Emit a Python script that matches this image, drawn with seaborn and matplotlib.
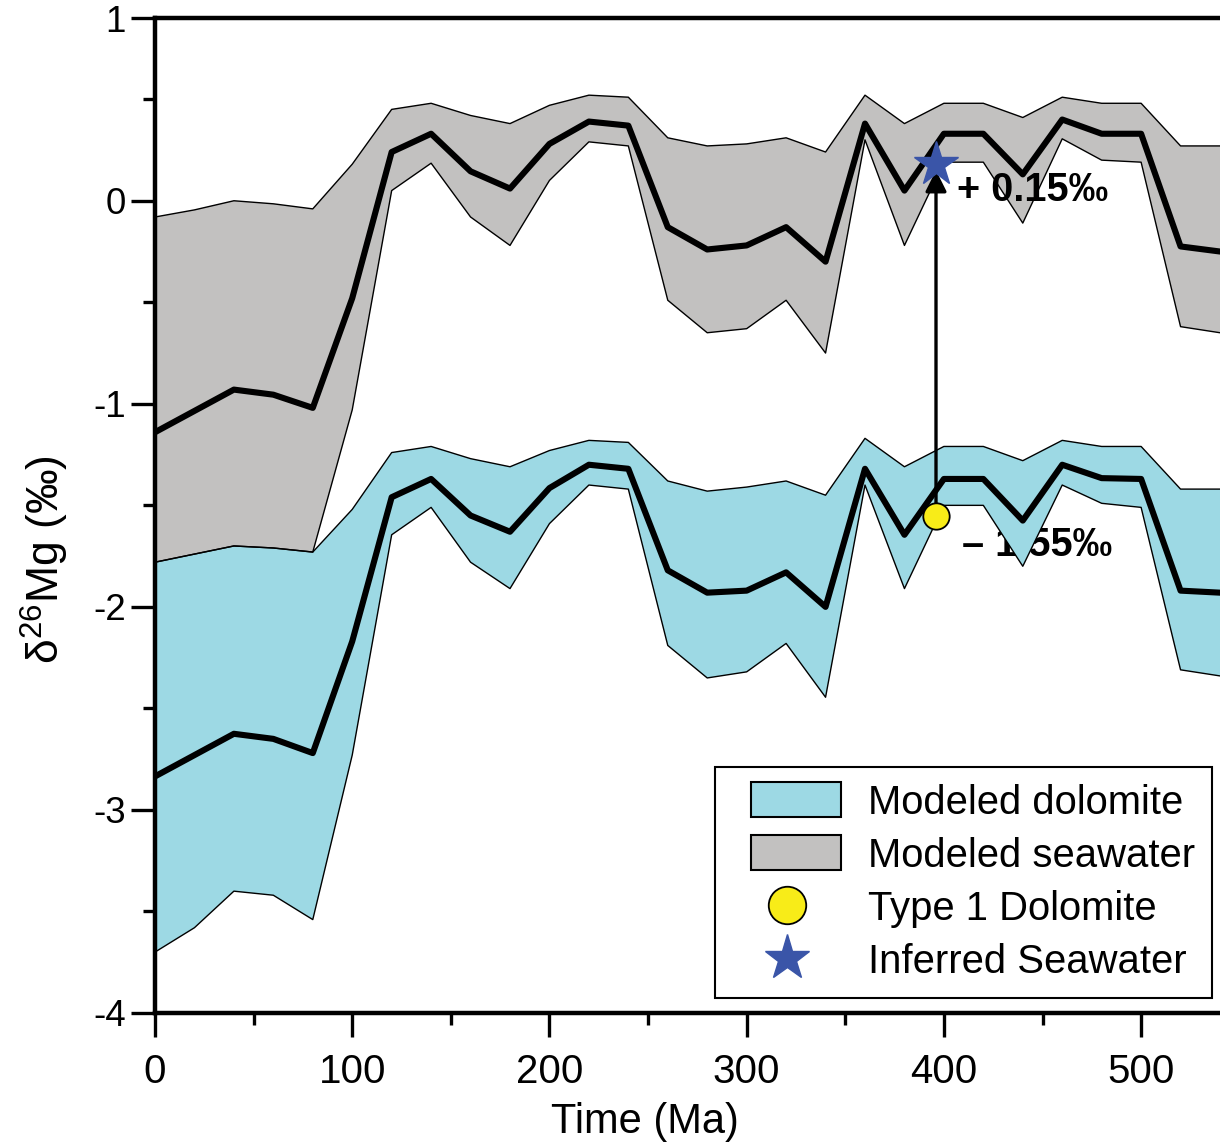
import numpy as np
import pandas as pd
import matplotlib
matplotlib.use("Agg")
import matplotlib.pyplot as plt
import seaborn as sns
from matplotlib.patches import Patch, Rectangle
from matplotlib.lines import Line2D
from matplotlib.ticker import MultipleLocator, FixedLocator, FixedFormatter
from matplotlib.legend_handler import HandlerPatch, HandlerLine2D

# ---------------- data ----------------
time_ma = [0, 20, 40, 60, 80, 100, 120, 140, 160, 180, 200, 220, 240, 260,
           280, 300, 320, 340, 360, 380, 400, 420, 440, 460, 480, 500, 520, 540]

seawater_mid = [-1.14, -1.035, -0.93, -0.955, -1.02, -0.48, 0.24, 0.33, 0.145, 0.06,
                0.28, 0.39, 0.37, -0.13, -0.24, -0.22, -0.13, -0.30, 0.38, 0.05,
                0.33, 0.33, 0.13, 0.40, 0.33, 0.33, -0.225, -0.25]
seawater_hi = [-0.08, -0.045, 0.0, -0.015, -0.04, 0.18, 0.45, 0.48, 0.42, 0.38,
               0.47, 0.52, 0.51, 0.31, 0.27, 0.28, 0.31, 0.24, 0.52, 0.38,
               0.48, 0.48, 0.41, 0.51, 0.48, 0.48, 0.27, 0.27]
seawater_lo = [-1.78, -1.74, -1.70, -1.71, -1.73, -1.03, 0.05, 0.185, -0.08, -0.22,
               0.10, 0.29, 0.27, -0.49, -0.65, -0.63, -0.49, -0.75, 0.30, -0.22,
               0.19, 0.19, -0.11, 0.305, 0.20, 0.19, -0.62, -0.65]

dolomite_mid = [-2.835, -2.73, -2.625, -2.65, -2.72, -2.17, -1.46, -1.37, -1.55, -1.63,
                -1.415, -1.30, -1.32, -1.82, -1.93, -1.92, -1.83, -2.00, -1.32, -1.645,
                -1.37, -1.37, -1.575, -1.30, -1.366, -1.37, -1.92, -1.93]
dolomite_hi = [-1.78, -1.74, -1.70, -1.71, -1.73, -1.52, -1.24, -1.21, -1.27, -1.31,
               -1.23, -1.18, -1.19, -1.38, -1.43, -1.41, -1.38, -1.45, -1.17, -1.31,
               -1.21, -1.21, -1.28, -1.18, -1.21, -1.21, -1.42, -1.42]
dolomite_lo = [-3.70, -3.58, -3.40, -3.42, -3.54, -2.73, -1.645, -1.51, -1.78, -1.91,
               -1.59, -1.40, -1.42, -2.19, -2.35, -2.32, -2.18, -2.445, -1.40, -1.91,
               -1.50, -1.50, -1.80, -1.40, -1.49, -1.51, -2.31, -2.34]

type1_time = [396]
type1_value = [-1.55]
inferred_time = [396]
inferred_value = [0.18]

label_sw = "+ 0.15‰"
label_dol = "– 1.55‰"
legend_labels = ["Modeled dolomite", "Modeled seawater", "Type 1 Dolomite", "Inferred Seawater"]

# y axis as drawn in the original: top edge labelled "1"
ytick_pos = [-4, -3, -2, -1, 0, 0.9]
ytick_lab = ["-4", "-3", "-2", "-1", "0", "1"]

# ---------------- style ----------------
sns.set_theme(style="ticks")
plt.rcParams["font.family"] = ["Liberation Sans", "DejaVu Sans"]
plt.rcParams["axes.unicode_minus"] = False
plt.rcParams["mathtext.fontset"] = "custom"
plt.rcParams["mathtext.rm"] = "Liberation Sans"
plt.rcParams["mathtext.it"] = "Liberation Sans"
for k in ["text.color", "axes.labelcolor", "xtick.color", "ytick.color", "axes.edgecolor"]:
    plt.rcParams[k] = "black"

CYAN = "#9dd9e4"
GRAY = "#c2c1c0"
BLUE = "#3a55a8"
YELLOW = "#f8ec18"

fig = plt.figure(figsize=(12.2, 11.45), dpi=100)
ax = fig.add_axes([155 / 1220, 1 - 1013 / 1145, 1 - 155 / 1220, (1013 - 18) / 1145])

df = pd.DataFrame({
    "time": time_ma,
    "sw_mid": seawater_mid, "sw_hi": seawater_hi, "sw_lo": seawater_lo,
    "dol_mid": dolomite_mid, "dol_hi": dolomite_hi, "dol_lo": dolomite_lo,
})

# bands
ax.fill_between(df["time"], df["sw_lo"], df["sw_hi"], facecolor=GRAY,
                edgecolor="none", zorder=1)
ax.fill_between(df["time"], df["dol_lo"], df["dol_hi"], facecolor=CYAN,
                edgecolor="none", zorder=1.6)
for col in ["sw_hi", "sw_lo", "dol_hi", "dol_lo"]:
    sns.lineplot(data=df, x="time", y=col, ax=ax, color="black", lw=1.0, zorder=2)

# central lines
sns.lineplot(data=df, x="time", y="sw_mid", ax=ax, color="black", lw=4.4, zorder=3)
sns.lineplot(data=df, x="time", y="dol_mid", ax=ax, color="black", lw=4.4, zorder=3)

# arrow
ax.annotate("", xy=(inferred_time[0], inferred_value[0] - 0.03),
            xytext=(type1_time[0], type1_value[0] + 0.06),
            arrowprops=dict(arrowstyle="-|>", lw=2.4, color="black",
                            mutation_scale=32, shrinkA=0, shrinkB=0),
            zorder=4)

# points
ax.plot(type1_time, type1_value, ls="", marker="o", ms=19, mfc=YELLOW,
        mec="black", mew=1.3, zorder=5)
ax.plot(inferred_time, inferred_value, ls="", marker="*", ms=33, mfc=BLUE,
        mec=BLUE, mew=1, zorder=5)

# annotation text
ax.text(406.5, 0.054, label_sw, fontsize=28.5, fontweight="bold", ha="left",
        va="center", zorder=1.5)
ax.text(409, -1.695, label_dol, fontsize=28.5, fontweight="bold", ha="left",
        va="center", zorder=1.5)

# axes
ax.set_xlim(0, 540)
ax.set_ylim(-4, 0.9)
ax.xaxis.set_major_locator(MultipleLocator(100))
ax.xaxis.set_minor_locator(MultipleLocator(50))
ax.yaxis.set_major_locator(FixedLocator(ytick_pos))
ax.yaxis.set_major_formatter(FixedFormatter(ytick_lab))
ax.yaxis.set_minor_locator(FixedLocator([-3.5, -2.5, -1.5, -0.5, 0.5]))
ax.tick_params(axis="both", which="major", direction="out", length=17, width=2.4,
               color="black")
ax.tick_params(axis="both", which="minor", direction="out", length=8.5, width=2.4,
               color="black")
ax.tick_params(axis="y", which="major", labelsize=26.5, pad=4)
ax.tick_params(axis="x", which="major", labelsize=29, pad=12)

for side in ["left", "bottom", "top"]:
    ax.spines[side].set_linewidth(3.2)
    ax.spines[side].set_color("black")
ax.spines["right"].set_visible(False)

ax.set_xlabel("Time (Ma)", fontsize=30)
ax.xaxis.set_label_coords(0.46, -0.089)
ax.set_ylabel("δ$^{26}$Mg (‰)", fontsize=32)
ax.yaxis.set_label_coords(-0.079, 0.456)

# legend
FS = 28.8
px2pt = 0.72
PATCH_W = 90 * px2pt
PATCH_H = 35 * px2pt


def make_rect(legend, orig_handle, xdescent, ydescent, width, height, fontsize):
    return Rectangle((-xdescent + width - PATCH_W, -ydescent + (height - PATCH_H) / 2),
                     PATCH_W, PATCH_H)


class RightMarker(HandlerLine2D):
    def get_xdata(self, legend, xdescent, ydescent, width, height, fontsize):
        xd, xm = super().get_xdata(legend, xdescent, ydescent, width, height, fontsize)
        return xd, [-xdescent + width - 45 * px2pt]


handles = [
    Patch(facecolor=CYAN, edgecolor="black", lw=1.5),
    Patch(facecolor=GRAY, edgecolor="black", lw=1.5),
    Line2D([], [], ls="", marker="o", ms=27, mfc=YELLOW, mec="black", mew=1.3),
    Line2D([], [], ls="", marker="*", ms=34, mfc=BLUE, mec=BLUE),
]
hmap = {handles[0]: HandlerPatch(patch_func=make_rect),
        handles[1]: HandlerPatch(patch_func=make_rect),
        handles[2]: RightMarker(numpoints=1),
        handles[3]: RightMarker(numpoints=1)}
fs_px = FS / 72 * 100
leg = ax.legend(handles, legend_labels, handler_map=hmap, loc="lower right",
                bbox_to_anchor=(0.9925, 0.015), borderaxespad=0, fontsize=FS,
                frameon=True, fancybox=False, edgecolor="black", framealpha=1,
                handlelength=109 / fs_px, handleheight=0.87,
                handletextpad=27 / fs_px, labelspacing=0.38, borderpad=0.42)
leg.get_frame().set_linewidth(1.5)

fig.savefig("out.png", dpi=100)
